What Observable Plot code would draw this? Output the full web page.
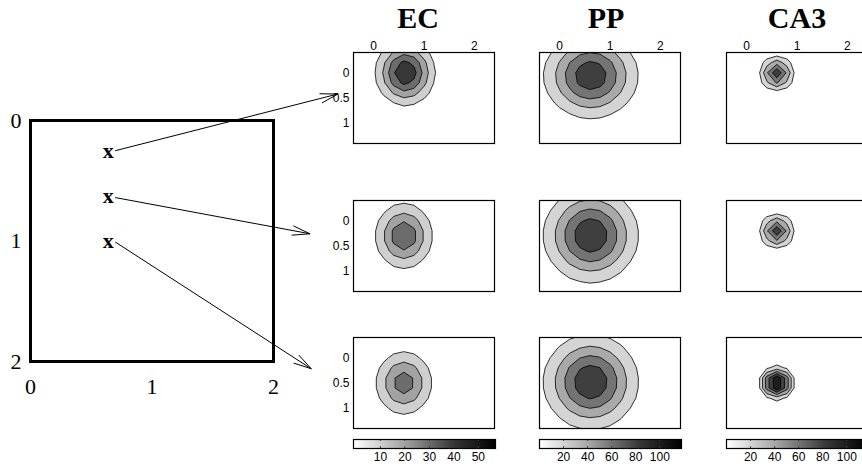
<!DOCTYPE html>
<html>
<head>
<meta charset="utf-8">
<script src="https://cdn.jsdelivr.net/npm/d3@7"></script>
<script src="https://cdn.jsdelivr.net/npm/@observablehq/plot@0.6"></script>
<style>
  html, body { margin: 0; padding: 0; background: #fff; }
  #fig { position: relative; width: 862px; height: 467px; overflow: hidden; background: #fff; }
  #fig svg { position: absolute; max-width: none; }
  .title { position: absolute; top: 3px; font-family: "Liberation Serif", "Times New Roman", serif;
           font-weight: bold; font-size: 30px; line-height: 30px; transform: translateX(-50%); white-space: nowrap; }
</style>
</head>
<body>
<div id="fig"></div>
<script>
// ---------------- data ----------------
const regions = ["EC", "PP", "CA3"];

// sample positions of the rate maps (cell centres)
const gridX = [-0.4, -0.2, 0, 0.2, 0.4, 0.6, 0.8, 1.0, 1.2, 1.4, 1.6, 1.8, 2.0, 2.2, 2.4];
const gridY = [-0.4, -0.2, 0, 0.2, 0.4, 0.6, 0.8, 1.0, 1.2, 1.4];

// EC: peak rate, rate along the row through the peak (at gridX), rate along the column through the peak (at gridY)
const ecPeak = [50, 39.5, 36];
const ecRowRate = [
  [0.4, 2.1, 8.1, 21.4, 39.2, 49.8, 43.8, 26.7, 11.2, 3.3, 0.7, 0.1, 0, 0, 0],
  [0.5, 2.4, 8.1, 19.5, 33.1, 39.5, 33.1, 19.5, 8.1, 2.4, 0.5, 0.1, 0, 0, 0],
  [0.5, 2.3, 7.6, 18.0, 30.3, 36.0, 30.3, 18.0, 7.6, 2.3, 0.5, 0.1, 0, 0, 0]
];
const ecColRate = [
  [27, 42.9, 50, 42.9, 27, 12.5, 4.2, 1.1, 0.2, 0],
  [7.5, 16.9, 29.1, 38.2, 38.2, 29.1, 16.9, 7.5, 2.5, 0.7],
  [2.2, 6.6, 15.1, 26.4, 34.8, 34.8, 26.4, 15.1, 6.6, 2.2]
];

// PP
const ppPeak = [96, 98, 98];
const ppRowRate = [
  [14.7, 28.6, 48.0, 69.9, 88.0, 95.9, 90.6, 74.0, 52.4, 32.1, 17.0, 7.8, 3.1, 1.1, 0.3],
  [15.0, 29.2, 49.0, 71.3, 89.8, 97.9, 92.4, 75.5, 53.5, 32.7, 17.4, 8.0, 3.2, 1.1, 0.3],
  [15.0, 29.2, 49.0, 71.3, 89.8, 97.9, 92.4, 75.5, 53.5, 32.7, 17.4, 8.0, 3.2, 1.1, 0.3]
];
const ppColRate = [
  [59.9, 82.6, 95.2, 91.9, 74.2, 50.1, 28.3, 13.4, 5.3, 1.7],
  [41.6, 63.6, 84.2, 96.6, 95.9, 82.4, 61.3, 39.5, 22.0, 10.6],
  [24.3, 42.6, 64.7, 85.1, 96.9, 95.5, 81.5, 60.2, 38.5, 21.3]
];

// CA3
const ca3Peak = [98, 98, 117];
const ca3RowRate = [
  [0, 0, 0, 5, 57, 98, 57, 5, 0, 0, 0, 0, 0, 0, 0],
  [0, 0, 0, 5, 57, 98, 57, 5, 0, 0, 0, 0, 0, 0, 0],
  [0, 0, 0, 0, 69, 117, 69, 0, 0, 0, 0, 0, 0, 0, 0]
];
const ca3ColRate = [
  [3, 52, 98, 62, 7, 0, 0, 0, 0, 0],
  [0, 3, 55, 98, 58, 5, 0, 0, 0, 0],
  [0, 0, 0, 28, 117, 117, 28, 0, 0, 0]
];

// contour levels, colour-bar ranges and colour-bar ticks per region
const ecLevels = [10, 20, 30, 40, 50];
const ppLevels = [20, 40, 60, 80, 100];
const ca3Levels = [20, 40, 60, 80, 100];
const ecRange = [-1, 57];
const ppRange = [0, 118];
const ca3Range = [0, 118];
const ecTicks = [10, 20, 30, 40, 50];
const ppTicks = [20, 40, 60, 80, 100];
const ca3Ticks = [20, 40, 60, 80, 100];

// panel axis ticks
const panelXTicks = [0, 1, 2];
const panelYTicks = [0, 0.5, 1];

// left diagram: square arena, sampled places and arrows
const arenaTicks = [0, 1, 2];
const placeX = [0.64, 0.64, 0.64];
const placeY = [0.25, 0.63, 1.0];
const arrowStartX = [0.70, 0.70, 0.70];
const arrowStartY = [0.25, 0.64, 1.01];
const arrowEndX = [2.53, 2.30, 2.31];
const arrowEndY = [-0.22, 0.94, 2.06];

// ---------------- drawing ----------------
const fig = document.getElementById("fig");
function place(svg, left, top) {
  svg.style.left = left + "px";
  svg.style.top = top + "px";
  fig.appendChild(svg);
}
const fmt = (d) => String(d);

// grey colour map (white -> black), slightly darker towards the top end
const greyLightness = d3.scaleLinear().domain([0, 0.35, 0.52, 0.70, 1]).range([1, 0.65, 0.44, 0.22, 0]).clamp(true);
const greyMap = (t) => { const v = Math.round(255 * greyLightness(t)); return `rgb(${v},${v},${v})`; };

// left diagram
const places = placeX.map((x, i) => ({x, y: placeY[i]}));
const arrows = arrowStartX.map((x1, i) => ({x1, y1: arrowStartY[i], x2: arrowEndX[i], y2: arrowEndY[i]}));
place(Plot.plot({
  width: 350, height: 467,
  marginLeft: 30, marginRight: 77, marginTop: 120, marginBottom: 106,
  style: {fontFamily: "'Liberation Serif', 'Times New Roman', serif", fontSize: "22px", background: "transparent", overflow: "visible", color: "black"},
  x: {domain: [0, 2], ticks: arenaTicks, tickFormat: fmt, tickSize: 0, tickPadding: 17, label: null},
  y: {domain: [0, 2], reverse: true, ticks: arenaTicks, tickFormat: fmt, tickSize: 0, tickPadding: 9, label: null},
  marks: [
    Plot.frame({stroke: "black", strokeWidth: 3}),
    Plot.text(places, {x: "x", y: "y", text: () => "x", fontWeight: "bold", fontSize: 22, fill: "black"}),
    Plot.arrow(arrows, {x1: "x1", y1: "y1", x2: "x2", y2: "y2", stroke: "black", strokeWidth: 1, headLength: 27, headAngle: 30})
  ]
}), 0, 0);

// titles
const titleCenters = [418, 606, 797];
regions.forEach((r, k) => {
  const d = document.createElement("div");
  d.className = "title";
  d.textContent = r;
  d.style.left = titleCenters[k] + "px";
  fig.appendChild(d);
});

const colLeft = [353, 539, 726];
const rowTop = [52, 200, 337];
const FW = 141, FH = 91, ML = 30, MR = 1, MT = 20, MB = 1;

const regionData = [
  {peak: ecPeak, row: ecRowRate, col: ecColRate, levels: ecLevels, range: ecRange, ticks: ecTicks},
  {peak: ppPeak, row: ppRowRate, col: ppColRate, levels: ppLevels, range: ppRange, ticks: ppTicks},
  {peak: ca3Peak, row: ca3RowRate, col: ca3ColRate, levels: ca3Levels, range: ca3Range, ticks: ca3Ticks}
];

function rateMap(rowRate, colRate, peak) {
  const v = [];
  for (let j = 0; j < gridY.length; j++)
    for (let i = 0; i < gridX.length; i++)
      v.push(rowRate[i] * colRate[j] / peak);
  return v;
}

const dx = (gridX[1] - gridX[0]) / 2;
const dy = (gridY[1] - gridY[0]) / 2;
const fontSans = "'Liberation Sans', Arial, Helvetica, sans-serif";

regionData.forEach((R, c) => {
  for (let r = 0; r < 3; r++) {
    const values = rateMap(R.row[r], R.col[r], R.peak[r]);
    const svg = Plot.plot({
      width: ML + FW + MR, height: MT + FH + MB,
      marginLeft: ML, marginRight: MR, marginTop: MT, marginBottom: MB,
      style: {fontFamily: fontSans, fontSize: "12px", background: "transparent", overflow: "visible", color: "black"},
      x: {domain: [gridX[0], gridX[gridX.length - 1]], axis: r === 0 ? "top" : null, ticks: panelXTicks, tickFormat: fmt, tickSize: 0, tickPadding: 3, label: null},
      y: {domain: [gridY[0], gridY[gridY.length - 1]], reverse: true, axis: c === 0 ? "left" : null, ticks: panelYTicks, tickFormat: fmt, tickSize: 0, tickPadding: 4, label: null},
      color: {type: "linear", domain: R.range, interpolate: () => greyMap},
      marks: [
        Plot.contour(values, {
          width: gridX.length, height: gridY.length,
          x1: gridX[0] - dx, x2: gridX[gridX.length - 1] + dx,
          y1: gridY[0] - dy, y2: gridY[gridY.length - 1] + dy,
          fill: Plot.identity, stroke: "black", strokeWidth: 0.8,
          thresholds: R.levels, clip: true
        }),
        Plot.frame({stroke: "black", strokeWidth: 1.2})
      ]
    });
    place(svg, colLeft[c] - ML, rowTop[r] - MT);
  }
  // colour bar
  const cb = Plot.plot({
    width: ML + 142 + MR, height: 1 + 9 + 20,
    marginLeft: ML, marginRight: MR, marginTop: 1, marginBottom: 20,
    style: {fontFamily: fontSans, fontSize: "12px", background: "transparent", overflow: "visible", color: "black"},
    x: {domain: R.range, ticks: R.ticks, tickFormat: fmt, tickSize: 0, tickPadding: 4, label: null},
    y: {domain: [0, 1], axis: null},
    color: {type: "linear", domain: R.range, interpolate: () => greyMap},
    marks: [
      Plot.raster({fill: (x, y) => x, x1: R.range[0], x2: R.range[1], y1: 0, y2: 1, width: 142, height: 1, imageRendering: "auto"}),
      Plot.ruleX(R.ticks, {y1: 0, y2: 0.22, stroke: "#444"}),
      Plot.ruleX(R.ticks, {y1: 0.78, y2: 1, stroke: "#444"}),
      Plot.frame({stroke: "black", strokeWidth: 1.2})
    ]
  });
  place(cb, colLeft[c] - ML, 439 - 1);
});
</script>
</body>
</html>
